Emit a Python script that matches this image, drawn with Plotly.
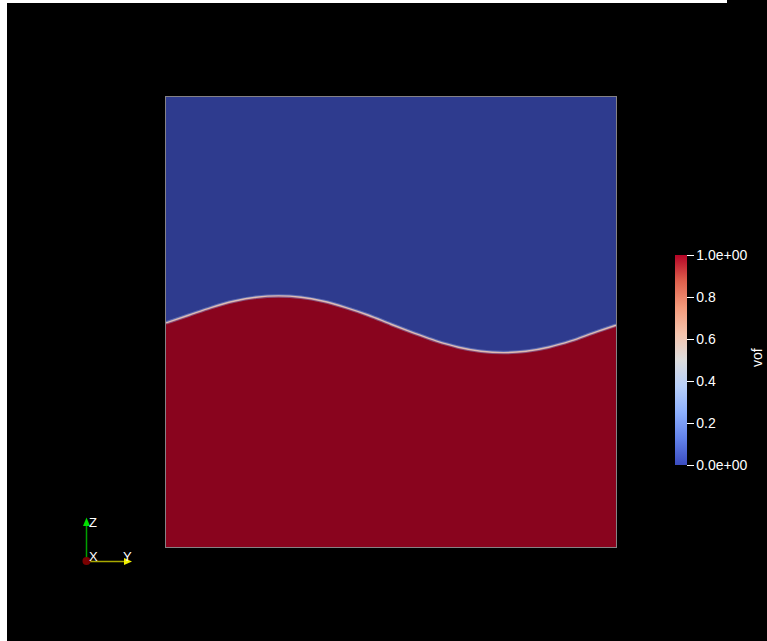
import plotly.graph_objects as go

# Interface height (z) of the vof = 0.5 surface sampled along y, unit square domain
y_pos = [0.00, 0.05, 0.10, 0.15, 0.20, 0.25, 0.30, 0.35, 0.40, 0.45, 0.50,
         0.55, 0.60, 0.65, 0.70, 0.75, 0.80, 0.85, 0.90, 0.95, 1.00]
z_iface = [0.498, 0.515, 0.532, 0.546, 0.555, 0.558, 0.555, 0.546, 0.532, 0.515, 0.495,
           0.476, 0.458, 0.444, 0.435, 0.432, 0.435, 0.444, 0.458, 0.476, 0.493]

# Colour bar for the vof field
cbar_vals = [0.0, 0.2, 0.4, 0.6, 0.8, 1.0]
cbar_text = ["0.0e+00", "0.2", "0.4", "0.6", "0.8", "1.0e+00"]

# Cool-to-warm colour map
coolwarm = [
    [0.000, "rgb(59,76,192)"],
    [0.125, "rgb(98,130,234)"],
    [0.250, "rgb(141,176,254)"],
    [0.375, "rgb(184,208,249)"],
    [0.500, "rgb(221,221,221)"],
    [0.625, "rgb(245,196,173)"],
    [0.750, "rgb(244,154,123)"],
    [0.875, "rgb(222,96,77)"],
    [1.000, "rgb(180,4,38)"],
]

W, H = 767, 641
FONT = "Liberation Sans"


def px(x):
    return x / W


def py(y):
    return 1 - y / H


fig = go.Figure()

# liquid phase (vof = 1) below the interface
fig.add_trace(go.Scatter(
    x=y_pos, y=z_iface, mode="lines", line=dict(shape="spline", width=0, color="#89041e"),
    fill="tozeroy", fillcolor="#89041e", hoverinfo="skip", showlegend=False,
))
# diffuse interface band
fig.add_trace(go.Scatter(
    x=y_pos, y=z_iface, mode="lines",
    line=dict(shape="spline", width=3.5, color="rgba(140,155,215,0.5)"),
    hoverinfo="skip", showlegend=False,
))
fig.add_trace(go.Scatter(
    x=y_pos, y=z_iface, mode="lines",
    line=dict(shape="spline", width=1.4, color="rgba(240,205,185,0.85)"),
    hoverinfo="skip", showlegend=False,
))
# colour bar carrier
fig.add_trace(go.Scatter(
    x=[0.5, 0.5], y=[0.5, 0.5], mode="markers",
    marker=dict(size=0.1, opacity=0, color=[0, 1], cmin=0, cmax=1, colorscale=coolwarm,
                showscale=True,
                colorbar=dict(
                    thickness=12, thicknessmode="pixels",
                    len=210, lenmode="pixels",
                    x=px(675), xanchor="left", xpad=0,
                    y=py(360), yanchor="middle", ypad=0,
                    outlinewidth=0,
                    tickmode="array", tickvals=cbar_vals, ticktext=cbar_text,
                    ticks="outside", ticklen=7, tickwidth=1, tickcolor="white",
                    tickfont=dict(family=FONT, size=14, color="white"),
                )),
    hoverinfo="skip", showlegend=False,
))

shapes = [
    # white frame strips
    dict(type="rect", xref="paper", yref="paper", x0=0, x1=px(7), y0=0, y1=1,
         fillcolor="white", line=dict(width=0), layer="above"),
    dict(type="rect", xref="paper", yref="paper", x0=0, x1=px(727), y0=py(3), y1=1,
         fillcolor="white", line=dict(width=0), layer="above"),
    # orientation triad
    dict(type="line", xref="paper", yref="paper", x0=px(86.5), y0=py(561), x1=px(86.5), y1=py(525),
         line=dict(color="#00a000", width=1.5)),
    dict(type="path", xref="paper", yref="paper",
         path=f"M {px(83)} {py(526)} L {px(90)} {py(526)} L {px(86.5)} {py(517.5)} Z",
         fillcolor="#00e000", line=dict(width=0)),
    dict(type="line", xref="paper", yref="paper", x0=px(86.5), y0=py(561.5), x1=px(125), y1=py(561.5),
         line=dict(color="#a8a800", width=1.5)),
    dict(type="path", xref="paper", yref="paper",
         path=f"M {px(124)} {py(558)} L {px(124)} {py(565)} L {px(132)} {py(561.5)} Z",
         fillcolor="#f0f000", line=dict(width=0)),
    dict(type="circle", xref="paper", yref="paper",
         x0=px(82.5), x1=px(90.5), y0=py(565), y1=py(557),
         fillcolor="#7a0000", line=dict(width=0)),
]

annotations = [
    dict(text="vof", xref="paper", yref="paper", x=px(757), y=py(358), showarrow=False,
         xanchor="center", yanchor="middle",
         textangle=-90, font=dict(family=FONT, size=14, color="white")),
    dict(text="Z", xref="paper", yref="paper", x=px(92.5), y=py(522), showarrow=False,
         xanchor="center", yanchor="middle",
         font=dict(family=FONT, size=13, color="white")),
    dict(text="X", xref="paper", yref="paper", x=px(93.5), y=py(556.5), showarrow=False,
         xanchor="center", yanchor="middle",
         font=dict(family=FONT, size=13, color="white")),
    dict(text="Y", xref="paper", yref="paper", x=px(127.5), y=py(556.5), showarrow=False,
         xanchor="center", yanchor="middle",
         font=dict(family=FONT, size=13, color="white")),
]

axis_common = dict(range=[0, 1], showgrid=False, zeroline=False, showticklabels=False,
                   ticks="", showline=True, mirror=True, linewidth=1,
                   linecolor="rgba(205,200,205,0.65)", fixedrange=True)

fig.update_layout(
    width=W, height=H,
    margin=dict(l=0, r=0, t=0, b=0),
    paper_bgcolor="black", plot_bgcolor="#2e3b8e",
    xaxis=dict(domain=[px(166), px(616)], **axis_common),
    yaxis=dict(domain=[py(547), py(97)], **axis_common),
    shapes=shapes, annotations=annotations,
    showlegend=False,
)

fig.write_html("out.html")
